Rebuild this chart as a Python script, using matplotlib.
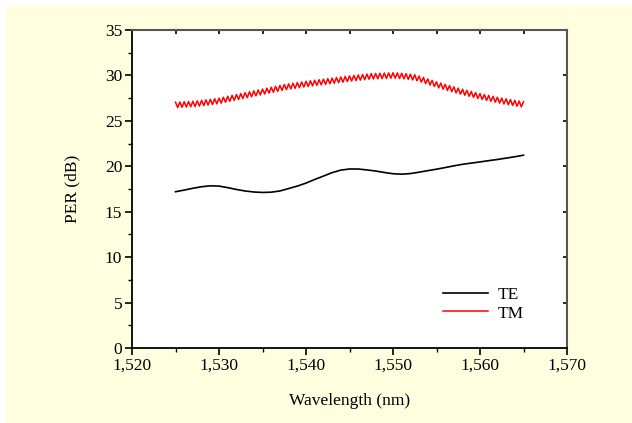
import numpy as np
import matplotlib
matplotlib.use("Agg")
import matplotlib.pyplot as plt
from matplotlib.ticker import FuncFormatter, MultipleLocator
from matplotlib.patches import Rectangle

plt.rcParams['font.family'] = ['Liberation Serif', 'DejaVu Serif']

# ---- data ----
te_wl = [1525, 1526, 1527, 1528, 1529, 1530, 1531, 1532, 1533, 1534, 1535,
         1536, 1537, 1538, 1539, 1540, 1541, 1542, 1543, 1544, 1545, 1546,
         1547, 1548, 1549, 1550, 1551, 1552, 1553, 1554, 1555, 1556, 1557,
         1558, 1559, 1560, 1561, 1562, 1563, 1564, 1565]
te_per = [17.20, 17.38, 17.58, 17.75, 17.85, 17.82, 17.65, 17.45, 17.28, 17.17, 17.12,
          17.15, 17.28, 17.55, 17.82, 18.15, 18.55, 18.92, 19.30, 19.58, 19.70, 19.70,
          19.60, 19.48, 19.32, 19.18, 19.13, 19.20, 19.35, 19.52, 19.68, 19.86, 20.05,
          20.22, 20.35, 20.48, 20.62, 20.75, 20.90, 21.05, 21.22]

# TM fringe maxima (every 0.5 nm from 1525.0) and minima (every 0.5 nm from 1525.25)
tm_peak_wl = np.arange(1525.0, 1565.01, 0.5)
tm_peaks = [27.05, 27.07, 27.10, 27.13, 27.16, 27.20, 27.25, 27.31, 27.37, 27.43,
            27.50, 27.60, 27.70, 27.80, 27.90, 28.00, 28.10, 28.20, 28.30, 28.40,
            28.50, 28.60, 28.70, 28.80, 28.90, 29.00, 29.07, 29.14, 29.21, 29.28,
            29.35, 29.41, 29.47, 29.53, 29.59, 29.65, 29.71, 29.77, 29.83, 29.89,
            29.95, 30.00, 30.05, 30.10, 30.15, 30.20, 30.22, 30.24, 30.26, 30.28,
            30.30, 30.28, 30.24, 30.19, 30.14, 30.08, 29.94, 29.78, 29.62, 29.46,
            29.30, 29.16, 29.02, 28.88, 28.74, 28.60, 28.48, 28.36, 28.24, 28.12,
            28.00, 27.90, 27.80, 27.70, 27.60, 27.50, 27.42, 27.34, 27.26, 27.18,
            27.10]
tm_trough_wl = np.arange(1525.25, 1565.0, 0.5)
tm_troughs = [26.46, 26.49, 26.52, 26.55, 26.58, 26.63, 26.68, 26.74, 26.80, 26.87,
              26.95, 27.05, 27.15, 27.25, 27.35, 27.45, 27.55, 27.65, 27.75, 27.85,
              27.95, 28.05, 28.15, 28.25, 28.35, 28.44, 28.51, 28.58, 28.65, 28.72,
              28.78, 28.84, 28.90, 28.96, 29.02, 29.08, 29.14, 29.20, 29.26, 29.32,
              29.38, 29.43, 29.48, 29.53, 29.58, 29.61, 29.63, 29.65, 29.67, 29.69,
              29.69, 29.66, 29.62, 29.57, 29.51, 29.41, 29.26, 29.10, 28.94, 28.78,
              28.63, 28.49, 28.35, 28.21, 28.07, 27.94, 27.82, 27.70, 27.58, 27.46,
              27.35, 27.25, 27.15, 27.05, 26.95, 26.86, 26.78, 26.70, 26.62, 26.54]

labels = ["TE", "TM"]

# interleave maxima and minima in wavelength order
tm_wl = np.empty(len(tm_peaks) + len(tm_troughs))
tm_per = np.empty_like(tm_wl)
tm_wl[0::2] = tm_peak_wl
tm_wl[1::2] = tm_trough_wl
tm_per[0::2] = tm_peaks
tm_per[1::2] = tm_troughs

W, H = 632, 423
fig = plt.figure(figsize=(W / 100, H / 100), dpi=100, facecolor='white')
fig.patches.append(Rectangle((6 / W, 0), 1 - 6 / W, 1 - 6 / H, transform=fig.transFigure,
                             facecolor='#FFFFE0', edgecolor='none', zorder=-10))

ax = fig.add_axes([132 / W, 1 - 348 / H, (567 - 132) / W, (348 - 30) / H])
ax.set_facecolor('white')

ax.plot(te_wl, te_per, color='black', lw=1.2, label=labels[0])
ax.plot(tm_wl, tm_per, color='#FF0000', lw=1.1, label=labels[1])

ax.set_xlim(1520, 1570)
ax.set_ylim(0, 35)

ax.xaxis.set_major_locator(MultipleLocator(10))
ax.xaxis.set_minor_locator(MultipleLocator(5))
ax.yaxis.set_major_locator(MultipleLocator(5))
ax.yaxis.set_minor_locator(MultipleLocator(2.5))
ax.xaxis.set_major_formatter(FuncFormatter(lambda v, p: f"{v:,.0f}"))

ax.tick_params(axis='both', which='major', direction='out', length=5, width=1.2,
               labelsize=12.5, pad=2, color='black')
ax.tick_params(axis='both', which='minor', direction='out', length=3, width=1.0)

for s in ['left', 'bottom']:
    ax.spines[s].set_linewidth(1.3)
    ax.spines[s].set_color('black')
for s in ['top', 'right']:
    ax.spines[s].set_linewidth(1.5)
    ax.spines[s].set_color('#555555')

# inward ticks on top and right
sec_x = ax.secondary_xaxis('top')
sec_x.set_xticks(np.arange(1525, 1570, 5))
sec_x.tick_params(direction='in', length=3, width=1.2, labeltop=False)
sec_x.spines['top'].set_visible(False)
sec_y = ax.secondary_yaxis('right')
sec_y.set_yticks(np.arange(5, 35, 5))
sec_y.tick_params(direction='in', length=3, width=1.2, labelright=False)
sec_y.spines['right'].set_visible(False)

ax.set_xlabel("Wavelength (nm)", fontsize=12.5, labelpad=14)
ax.set_ylabel("PER (dB)", fontsize=12.5, labelpad=18)

ax.legend(loc='upper left', bbox_to_anchor=(0.715, 0.193), frameon=False,
          fontsize=12.5, handlelength=2.6, handletextpad=0.55, labelspacing=0.15,
          borderpad=0, borderaxespad=0)

fig.savefig("out.png", dpi=100, facecolor=fig.get_facecolor())
